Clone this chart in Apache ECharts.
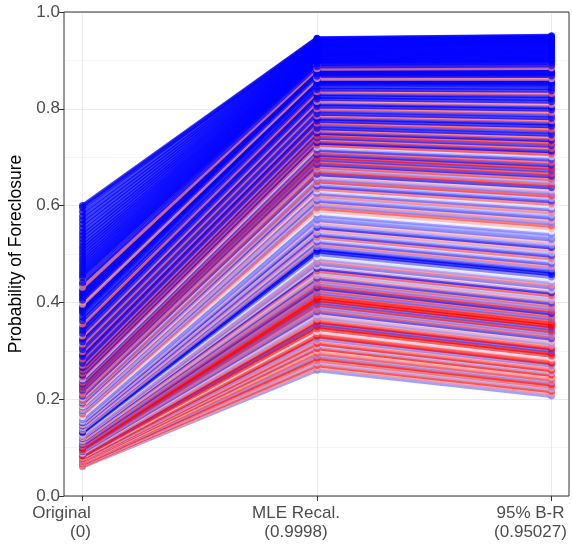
<!DOCTYPE html>
<html>
<head>
<meta charset="utf-8">
<script src="https://cdn.jsdelivr.net/npm/echarts@6/dist/echarts.min.js"></script>
<style>
html,body{margin:0;padding:0;background:#fff;}
#chart{width:572px;height:546px;}
</style>
</head>
<body>
<div id="chart"></div>
<script>
// Axis categories
var catNames = ['Original', 'MLE Recal.', '95% B-R'];
var catParams = ['(0)', '(0.9998)', '(0.95027)'];
var yTicks = [0, 0.2, 0.4, 0.6, 0.8, 1.0];

// Probability of foreclosure for each loan under the three models
var origVals = [
0.0604,0.0616,0.0628,0.0640,0.0652,0.0665,0.0677,0.0689,0.0701,0.0714,
0.0727,0.0740,0.0752,0.0765,0.0778,0.0792,0.0805,0.0818,0.0831,0.0845,
0.0859,0.0873,0.0886,0.0900,0.0914,0.0929,0.0943,0.0958,0.0972,0.0987,
0.1002,0.1017,0.1032,0.1048,0.1063,0.1079,0.1095,0.1111,0.1127,0.1144,
0.1160,0.1177,0.1194,0.1211,0.1228,0.1246,0.1263,0.1281,0.1299,0.1318,
0.1336,0.1355,0.1374,0.1394,0.1413,0.1433,0.1452,0.1473,0.1493,0.1514,
0.1535,0.1557,0.1578,0.1600,0.1622,0.1645,0.1668,0.1692,0.1715,0.1739,
0.1763,0.1788,0.1813,0.1839,0.1865,0.1892,0.1919,0.1947,0.1974,0.2003,
0.2031,0.2061,0.2090,0.2121,0.2151,0.2183,0.2215,0.2248,0.2281,0.2316,
0.2350,0.2386,0.2422,0.2460,0.2497,0.2536,0.2575,0.2616,0.2657,0.2700,
0.2743,0.2788,0.2833,0.2881,0.2928,0.2978,0.3028,0.3081,0.3133,0.3189,
0.3245,0.3304,0.3363,0.3426,0.3489,0.3556,0.3623,0.3695,0.3766,0.3843,
0.3920,0.4003,0.4086,0.4176,0.4265,0.4363,0.4460,0.4567,0.4673,0.4790,
0.4907,0.5037,0.5166,0.5311,0.5455,0.5619,0.5782,0.5962,
0.3805,0.3882,0.3962,0.4045,0.4131,0.4221,0.4314,0.4412,0.4514,0.4620,
0.4732,0.4849,0.4972,0.5102,0.5239,0.5383,0.5537,0.5700,0.5872,0.6000
];
var mleVals = [
0.260,0.265,0.270,0.275,0.280,0.285,0.290,0.295,0.300,0.305,
0.310,0.315,0.320,0.325,0.330,0.335,0.340,0.345,0.350,0.355,
0.360,0.365,0.370,0.375,0.380,0.385,0.390,0.395,0.400,0.405,
0.410,0.415,0.420,0.425,0.430,0.435,0.440,0.445,0.450,0.455,
0.460,0.465,0.470,0.475,0.480,0.485,0.490,0.495,0.500,0.505,
0.510,0.515,0.520,0.525,0.530,0.535,0.540,0.545,0.550,0.555,
0.560,0.565,0.570,0.575,0.580,0.585,0.590,0.595,0.600,0.605,
0.610,0.615,0.620,0.625,0.630,0.635,0.640,0.645,0.650,0.655,
0.660,0.665,0.670,0.675,0.680,0.685,0.690,0.695,0.700,0.705,
0.710,0.715,0.720,0.725,0.730,0.735,0.740,0.745,0.750,0.755,
0.760,0.765,0.770,0.775,0.780,0.785,0.790,0.795,0.800,0.805,
0.810,0.815,0.820,0.825,0.830,0.835,0.840,0.845,0.850,0.855,
0.860,0.865,0.870,0.875,0.880,0.885,0.890,0.895,0.900,0.905,
0.910,0.915,0.920,0.925,0.930,0.935,0.940,0.945,
0.8525,0.8575,0.8625,0.8675,0.8725,0.8775,0.8825,0.8875,0.8925,0.8975,
0.9025,0.9075,0.9125,0.9175,0.9225,0.9275,0.9325,0.9375,0.9425,0.946
];
var brVals = [
0.2068,0.2116,0.2163,0.2211,0.2258,0.2306,0.2354,0.2403,0.2451,0.2500,
0.2548,0.2597,0.2646,0.2696,0.2745,0.2795,0.2845,0.2895,0.2945,0.2996,
0.3046,0.3097,0.3148,0.3199,0.3250,0.3302,0.3353,0.3405,0.3457,0.3509,
0.3561,0.3614,0.3666,0.3719,0.3771,0.3824,0.3877,0.3931,0.3984,0.4038,
0.4091,0.4145,0.4198,0.4252,0.4306,0.4361,0.4415,0.4470,0.4524,0.4579,
0.4634,0.4689,0.4743,0.4798,0.4853,0.4909,0.4964,0.5020,0.5076,0.5132,
0.5187,0.5243,0.5299,0.5355,0.5411,0.5468,0.5524,0.5581,0.5637,0.5694,
0.5750,0.5807,0.5863,0.5920,0.5977,0.6034,0.6091,0.6148,0.6205,0.6262,
0.6319,0.6376,0.6433,0.6491,0.6548,0.6605,0.6662,0.6720,0.6777,0.6835,
0.6892,0.6950,0.7007,0.7064,0.7121,0.7178,0.7235,0.7293,0.7350,0.7408,
0.7465,0.7522,0.7579,0.7637,0.7694,0.7751,0.7807,0.7864,0.7921,0.7978,
0.8034,0.8091,0.8147,0.8204,0.8260,0.8316,0.8372,0.8428,0.8483,0.8539,
0.8594,0.8650,0.8705,0.8760,0.8814,0.8869,0.8923,0.8977,0.9030,0.9084,
0.9138,0.9191,0.9243,0.9295,0.9347,0.9398,0.9449,0.9500,
0.8511,0.8567,0.8622,0.8678,0.8733,0.8787,0.8842,0.8896,0.8950,0.9004,
0.9057,0.9111,0.9165,0.9217,0.9269,0.9321,0.9373,0.9424,0.9475,0.9510
];
// colour variable per loan (-1 = red end, 0 = white, 1 = blue end)
var scoreVals = [
0.5,-0.4,-0.8,0.3,-0.6,-0.9,0.4,-0.7,-0.3,-0.9,
0.3,-0.9,-0.4,0.5,-1,-0.6,0.1,-0.8,-1,0.7,
-1,-0.5,0.4,-0.3,0.8,-0.6,0.5,-0.9,0.7,-1,
-1,-0.8,0.6,-0.7,0.9,-0.8,0.5,-0.6,0.8,-0.4,
0.3,-0.7,0.9,-0.2,0.6,-0.5,0.4,0.05,0.6,1,
1,0.5,-0.5,0.7,0.2,-0.6,0.8,0.3,-0.4,0.9,
0.4,-0.3,0.6,0.4,0.5,0,-0.3,-0.7,0.5,-0.4,
0.7,0.3,-0.5,0.6,0.1,-0.6,0.8,0.3,-0.8,0.5,
-0.3,0.9,-0.8,0.4,-0.7,0.9,-0.8,0.8,-0.9,0.9,
-0.7,0.8,0.2,-0.8,1,-0.7,0.9,-0.8,1,-0.6,
1,0.9,-0.7,1,1,-0.6,1,0.9,-0.6,1,
1,-0.5,1,1,1,-0.6,1,1,0.9,1,
1,-0.5,1,1,1,1,-0.4,1,1,1,
1,1,1,1,1,1,1,1,
1,1,-0.4,1,1,1,-0.5,1,1,1,
1,1,1,1,1,1,1,1,1,1
];

var FONT = '"Liberation Sans", Arial, sans-serif';

function scoreColor(s) {
  var r, g, b;
  if (s < 0) { r = 255; g = b = Math.round(255 * (1 + s)); }
  else { b = 255; r = g = Math.round(255 * (1 - s)); }
  return 'rgb(' + r + ',' + g + ',' + b + ')';
}

var series = [];
for (var i = 0; i < origVals.length; i++) {
  var c = scoreColor(scoreVals[i]);
  series.push({
    type: 'line',
    xAxisIndex: 1,
    yAxisIndex: 1,
    data: [[0, origVals[i]], [1, mleVals[i]], [2, brVals[i]]],
    symbol: 'circle',
    symbolSize: 7,
    showSymbol: true,
    lineStyle: { width: 4, color: c, opacity: 0.75 },
    itemStyle: { color: c, opacity: 0.75, borderWidth: 0 },
    emphasis: { disabled: true },
    silent: true,
    animation: false,
    z: 3
  });
}

var chart = echarts.init(document.getElementById('chart'), null, { renderer: 'canvas' });
chart.setOption({
  backgroundColor: '#ffffff',
  animation: false,
  grid: [
    { left: 64, right: 3, top: 12, bottom: 50, show: true, borderColor: '#333333', borderWidth: 1,
      backgroundColor: 'transparent', containLabel: false, outerBoundsMode: 'none', z: 4 },
    { left: 82.5, right: 20.5, top: 12, bottom: 50, show: false, containLabel: false, outerBoundsMode: 'none' }
  ],
  xAxis: [
    { gridIndex: 0, type: 'value', min: 0, max: 1, show: true,
      axisLine: { show: false }, axisTick: { show: false }, axisLabel: { show: false },
      splitLine: { show: false } },
    { gridIndex: 1, type: 'value', min: 0, max: 2, interval: 1,
      axisLine: { show: false },
      axisTick: { show: true, length: 5, lineStyle: { color: '#333333', width: 1 } },
      splitLine: { show: true, lineStyle: { color: '#ebebeb', width: 1 } },
      axisLabel: {
        show: true, margin: 8, padding: [0, 42, 0, 0],
        formatter: function (v) {
          var k = Math.round(v);
          if (k === 0) return '{a|' + catNames[k] + '}\n{r|' + catParams[k] + '}';
          return '{a|' + catNames[k] + '}\n{a|' + catParams[k] + '}';
        },
        rich: {
          a: { fontSize: 17, color: '#4d4d4d', fontFamily: FONT, lineHeight: 19 },
          r: { fontSize: 17, color: '#4d4d4d', fontFamily: FONT, lineHeight: 19, align: 'right' }
        }
      }
    }
  ],
  yAxis: [
    { gridIndex: 0, type: 'value', min: 0, max: 1, interval: 0.2,
      name: 'Probability of Foreclosure', nameLocation: 'middle', nameGap: 33,
      nameTextStyle: { fontSize: 17.5, color: '#000000', fontFamily: FONT },
      axisLine: { show: false },
      axisTick: { show: true, length: 5, lineStyle: { color: '#333333', width: 1 } },
      axisLabel: { show: true, margin: 4, fontSize: 17, color: '#4d4d4d', fontFamily: FONT,
        formatter: function (v) { return v.toFixed(1); } },
      splitLine: { show: true, lineStyle: { color: '#ebebeb', width: 1 } },
      minorTick: { show: false, splitNumber: 2 },
      minorSplitLine: { show: true, lineStyle: { color: '#f5f5f5', width: 1 } }
    },
    { gridIndex: 1, type: 'value', min: 0, max: 1, show: false,
      splitLine: { show: false } }
  ],
  series: series
});
</script>
</body>
</html>
